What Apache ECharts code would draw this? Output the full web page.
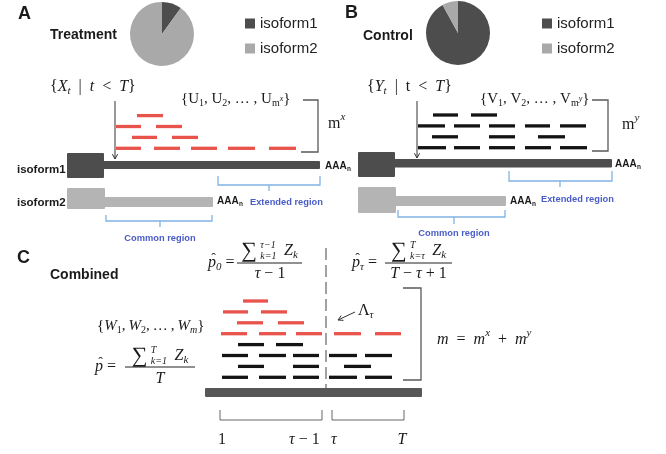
<!DOCTYPE html>
<html><head><meta charset="utf-8">
<script src="https://cdn.jsdelivr.net/npm/echarts@6/dist/echarts.min.js"></script>
<style>html,body{margin:0;padding:0;background:#fff}#c{width:666px;height:454px}</style>
</head><body><div id="c"></div>
<script>
// ---------------- data ----------------
const pieCategories = ['isoform1', 'isoform2'];
const treatmentShare = [10, 90];
const controlShare = [92, 8];

// reads: [start, end, row]  (row 0 = lane nearest the transcript)
const treatmentReads = [
  [116,141,0],[154,180,0],[191,217,0],[228,255,0],[269,296,0],
  [132,157,1],[172,198,1],
  [116,141,2],[156,182,2],
  [137,163,3]
];
const controlReads = [
  [418,446,0],[454,480,0],[489,515,0],[525,551,0],[560,587,0],
  [432,458,1],[489,515,1],[538,565,1],
  [418,445,2],[454,480,2],[489,515,2],[525,550,2],[560,586,2],
  [433,458,3],[471,497,3]
];
const combinedControlReads = [
  [222,248,0],[259,286,0],[293,319,0],[329,357,0],[365,392,0],
  [238,264,1],[293,319,1],[344,371,1],
  [222,248,2],[259,286,2],[293,319,2],[329,357,2],[365,392,2],
  [238,264,3],[276,303,3]
];
const combinedTreatmentReads = [
  [221,247,4],[259,286,4],[296,322,4],[334,361,4],[375,401,4],
  [237,263,5],[278,304,5],
  [223,248,6],[261,287,6],
  [243,268,7]
];
// transcripts: [capStart, capEnd, bodyEnd]
const treatmentIsoform1 = [67, 104, 320];
const treatmentIsoform2 = [67, 105, 213];
const controlIsoform1 = [358, 395, 612];
const controlIsoform2 = [358, 396, 506];
const combinedGenome = [205, 422];
const axisTickLabels = ['1', 'τ − 1', 'τ', 'T'];

// ---------------- styling / layout ----------------
const SERIF = "'Liberation Serif', 'DejaVu Serif', serif";
const SANS = "'Liberation Sans', Arial, sans-serif";
const RED = '#e8534b', BLACK = '#141414', DARK = '#4d4d4d', LIGHT = '#a9a9a9', LIGHT2 = '#b4b4b4';
const BLUE_LINE = '#80b3e4', BLUE_TEXT = '#4a5cc6';
const ROW = 10.9;
const E = '\u2002'; // en space for operator spacing

const mctx = document.createElement('canvas').getContext('2d');
function measure(t, st, s) { mctx.font = (st || 'normal') + ' normal ' + s + 'px ' + SERIF; return mctx.measureText(t).width; }

function txt(x, y, text, o) {
  o = o || {};
  const al = o.align || 'left';
  return { type: 'text', x: x, y: y, silent: true, z: 10,
    style: { text: text, fill: o.fill || '#1a1a1a', fontFamily: o.fontFamily || SERIF,
      fontSize: o.fontSize || 15, fontStyle: o.fontStyle || 'normal', fontWeight: o.fontWeight || 'normal',
      align: al, textAlign: al, verticalAlign: 'middle', textVerticalAlign: 'middle' } };
}
function sans(x, y, text, o) { return txt(x, y, text, Object.assign({ fontFamily: SANS, fontWeight: 'bold' }, o || {})); }

const KIND = {
  r: { s: 16, st: 'normal', dy: 0 }, i: { s: 16, st: 'italic', dy: 0 },
  sb: { s: 11, st: 'normal', dy: 4.5 }, sbi: { s: 11, st: 'italic', dy: 4.5 },
  sp: { s: 11, st: 'italic', dy: -6.5 },
  R: { s: 15, st: 'normal', dy: 0 }, I: { s: 15, st: 'italic', dy: 0 },
  SB: { s: 10, st: 'normal', dy: 4 }, SBI: { s: 10, st: 'italic', dy: 4 },
  tiny: { s: 8, st: 'italic', dy: 0 },
  big: { s: 22, st: 'normal', dy: 0, pad: 2 }
};
function mathText(x, y, parts, align) {
  const els = [];
  const ws = parts.map(function (p) {
    const t = p[0], k = p[1];
    if (k === 'lim') return Math.max(measure(t[0], 'italic', 10), measure(t[1], 'italic', 10)) + 9;
    const K = KIND[k === 'hat' ? 'i' : k];
    return measure(t, K.st, K.s) + (K.pad || 0);
  });
  const total = ws.reduce(function (a, b) { return a + b; }, 0);
  let cx = align === 'center' ? x - total / 2 : (align === 'right' ? x - total : x);
  parts.forEach(function (p, j) {
    const t = p[0], k = p[1];
    if (k === 'lim') {
      els.push(txt(cx + 1.5, y - 5.5, t[0], { fontSize: 10, fontStyle: 'italic' }));
      els.push(txt(cx + 1.5, y + 5, t[1], { fontSize: 10, fontStyle: 'italic' }));
    } else if (k === 'hat') {
      els.push(txt(cx, y, t, { fontSize: 16, fontStyle: 'italic' }));
      els.push(txt(cx + ws[j] / 2 + 1.5, y - 3.5, 'ˆ', { fontSize: 14, align: 'center' }));
    } else {
      const K = KIND[k];
      els.push(txt(cx, y + K.dy, t, { fontSize: K.s, fontStyle: K.st }));
    }
    cx += ws[j];
  });
  return els;
}
function aaa(x, y) { return [sans(x, y, 'AAA', { fontSize: 10 }), sans(x + 22, y + 3, 'n', { fontSize: 6.5 })]; }

// ---------------- series builders ----------------
function readSeries(data, baseY, color) {
  return { type: 'custom', coordinateSystem: 'cartesian2d', silent: true, animation: false, z: 3,
    data: data,
    renderItem: function (params, api) {
      const y = baseY - api.value(2) * ROW;
      const p0 = api.coord([api.value(0), y]);
      const p1 = api.coord([api.value(1), y]);
      return { type: 'line', shape: { x1: p0[0], y1: p0[1], x2: p1[0], y2: p1[1] },
        style: { stroke: color, lineWidth: 3.3, lineCap: 'butt' } };
    } };
}
function rectEl(api, x0, y0, x1, y1, color) {
  const a = api.coord([x0, y0]), b = api.coord([x1, y1]);
  return { type: 'rect', shape: { x: a[0], y: a[1], width: b[0] - a[0], height: b[1] - a[1], r: 1 }, style: { fill: color } };
}
// lane geometry: [capTop, capBottom, barTop, barBottom]
const lanes = [
  { model: treatmentIsoform1, g: [153, 178, 161, 169], color: DARK },
  { model: treatmentIsoform2, g: [188, 209, 197, 207], color: LIGHT2 },
  { model: controlIsoform1, g: [152, 177, 159, 167.5], color: DARK },
  { model: controlIsoform2, g: [187, 213, 196, 206], color: LIGHT2 }
];
const transcriptSeries = { type: 'custom', coordinateSystem: 'cartesian2d', silent: true, animation: false, z: 2,
  data: lanes.map(function (l) { return l.model; }),
  renderItem: function (params, api) {
    const g = lanes[params.dataIndex].g, c = lanes[params.dataIndex].color;
    return { type: 'group', children: [
      rectEl(api, api.value(0), g[0], api.value(1), g[1], c),
      rectEl(api, api.value(1) - 1, g[2], api.value(2), g[3], c)
    ] };
  } };
const genomeSeries = { type: 'custom', coordinateSystem: 'cartesian2d', silent: true, animation: false, z: 2,
  data: [combinedGenome],
  renderItem: function (params, api) { return rectEl(api, api.value(0), 388, api.value(1), 397, '#575757'); } };

const annotationSeries = { type: 'custom', coordinateSystem: 'cartesian2d', silent: true, animation: false, z: 4,
  data: [[0, 0]],
  renderItem: function (params, api) {
    const kids = [];
    function pl(pts, color, w, dash) {
      kids.push({ type: 'polyline', shape: { points: pts.map(function (p) { return api.coord(p); }) },
        style: { stroke: color, lineWidth: w, fill: null, lineDash: dash || null } });
    }
    function arrow(x0, y0, x1, y1, color) {
      pl([[x0, y0], [x1, y1]], color, 1);
      const dx = x1 - x0, dy = y1 - y0, L = Math.hypot(dx, dy), ux = dx / L, uy = dy / L, h = 5.5, s = 0.5;
      const c = Math.cos(s), sn = Math.sin(s);
      const b1 = [x1 - h * (ux * c - uy * sn), y1 - h * (uy * c + ux * sn)];
      const b2 = [x1 - h * (ux * c + uy * sn), y1 - h * (uy * c - ux * sn)];
      pl([b1, [x1, y1], b2], color, 1);
    }
    // right-hand count brackets
    pl([[303, 100], [318, 100], [318, 152], [301, 152]], '#5a5a5a', 1.3);
    pl([[592, 100], [608, 100], [608, 151], [592, 151]], '#5a5a5a', 1.3);
    pl([[403, 288], [421, 288], [421, 380], [403, 380]], '#5a5a5a', 1.3);
    // arrows
    arrow(115, 101, 115, 159, '#333');
    arrow(417, 101, 417, 158, '#333');
    arrow(355, 312, 338, 320, '#333');
    // blue region braces
    pl([[218, 176], [218, 185], [320, 185], [320, 176]], BLUE_LINE, 1.3);
    pl([[269, 185], [269, 191]], BLUE_LINE, 1.3);
    pl([[106, 215], [106, 221], [212, 221], [212, 215]], BLUE_LINE, 1.3);
    pl([[160, 221], [160, 227]], BLUE_LINE, 1.3);
    pl([[509, 171], [509, 181], [612, 181], [612, 171]], BLUE_LINE, 1.3);
    pl([[560, 181], [560, 187]], BLUE_LINE, 1.3);
    pl([[398, 210], [398, 217], [505, 217], [505, 210]], BLUE_LINE, 1.3);
    pl([[454, 217], [454, 224]], BLUE_LINE, 1.3);
    // bottom interval brackets
    pl([[220, 410], [220, 420], [322, 420], [322, 410]], '#666', 1);
    pl([[332, 410], [332, 420], [404, 420], [404, 410]], '#666', 1);
    // change point dashed line
    pl([[326, 248], [326, 388]], '#8a8a8a', 1.6, [12, 5]);
    // fraction bars
    pl([[237, 263], [302, 263]], '#222', 1);
    pl([[385, 263], [452, 263]], '#222', 1);
    pl([[125, 367], [195, 367]], '#222', 1);
    return { type: 'group', children: kids };
  } };

function pieSeries(center, values) {
  const colors = [DARK, LIGHT];
  return { type: 'pie', center: center, radius: 32, startAngle: 90, clockwise: true, silent: true, animation: false,
    label: { show: false }, labelLine: { show: false },
    itemStyle: { borderWidth: 0 },
    data: pieCategories.map(function (n, i) { return { name: n, value: values[i], itemStyle: { color: colors[i] } }; }) };
}
function legendAt(left) {
  return { data: pieCategories, left: left, top: 16, orient: 'vertical', icon: 'rect', itemWidth: 10, itemHeight: 10,
    itemGap: 10, selectedMode: false, padding: 0,
    textStyle: { fontFamily: SANS, fontSize: 15, color: '#222' } };
}

// ---------------- text ----------------
let texts = [];
texts.push(sans(18, 14, 'A', { fontSize: 18 }), sans(345, 13, 'B', { fontSize: 18 }), sans(17, 258, 'C', { fontSize: 18 }));
texts.push(sans(50, 35, 'Treatment', { fontSize: 14 }), sans(363, 36, 'Control', { fontSize: 14 }), sans(50, 275, 'Combined', { fontSize: 14 }));
texts.push(sans(17, 170, 'isoform1', { fontSize: 11.5 }), sans(17, 203, 'isoform2', { fontSize: 11.5 }));
texts = texts.concat(aaa(325, 166), aaa(217, 201), aaa(615, 164), aaa(510, 201));
texts.push(sans(250, 202, 'Extended region', { fontSize: 9.3, fill: BLUE_TEXT }), sans(541, 199, 'Extended region', { fontSize: 9.3, fill: BLUE_TEXT }));
texts.push(sans(160, 238, 'Common region', { fontSize: 9.3, fill: BLUE_TEXT, align: 'center' }), sans(454, 233, 'Common region', { fontSize: 9.3, fill: BLUE_TEXT, align: 'center' }));

texts = texts.concat(
  mathText(50, 87, [['{', 'r'], ['X', 'i'], ['t', 'sbi'], [E + '|' + E, 'r'], ['t', 'i'], [E + '<' + E, 'r'], ['T', 'i'], ['}', 'r']]),
  mathText(181, 99, [['{U', 'R'], ['1', 'SB'], [', U', 'R'], ['2', 'SB'], [', … , U', 'R'], ['m', 'SB'], ['x', 'tiny'], ['}', 'R']]),
  mathText(328, 124, [['m', 'r'], ['x', 'sp']]),
  mathText(367, 87, [['{', 'r'], ['Y', 'i'], ['t', 'sbi'], [E + '|' + E + 't' + E + '<' + E, 'r'], ['T', 'i'], ['}', 'r']]),
  mathText(480, 99, [['{V', 'R'], ['1', 'SB'], [', V', 'R'], ['2', 'SB'], [', … , V', 'R'], ['m', 'SB'], ['y', 'tiny'], ['}', 'R']]),
  mathText(622, 125, [['m', 'r'], ['y', 'sp']]),
  mathText(97, 326, [['{', 'R'], ['W', 'I'], ['1', 'SB'], [',\u2009', 'R'], ['W', 'I'], ['2', 'SB'], [',\u2009…\u2009,\u2009', 'R'], ['W', 'I'], ['m', 'SBI'], ['}', 'R']]),
  mathText(437, 340, [['m', 'i'], [E + '=' + E, 'r'], ['m', 'i'], ['x', 'sp'], [E + '+' + E, 'r'], ['m', 'i'], ['y', 'sp']]),
  mathText(358, 311, [['Λ', 'r'], ['τ', 'sbi']]),
  // p0 hat
  mathText(208, 263, [['p', 'hat'], ['0', 'sbi'], [' =', 'r']]),
  mathText(269.5, 251, [['∑', 'big'], [['τ−1', 'k=1'], 'lim'], ['Z', 'i'], ['k', 'sbi']], 'center'),
  mathText(270, 274, [['τ', 'i'], [' − 1', 'r']], 'center'),
  // p tau hat
  mathText(352, 263, [['p', 'hat'], ['τ', 'sbi'], [' =', 'r']]),
  mathText(418.5, 251, [['∑', 'big'], [['T', 'k=τ'], 'lim'], ['Z', 'i'], ['k', 'sbi']], 'center'),
  mathText(418.5, 274, [['T', 'i'], [' − ', 'r'], ['τ', 'i'], [' + 1', 'r']], 'center'),
  // p hat
  mathText(95, 367, [['p', 'hat'], [' =', 'r']]),
  mathText(160, 356, [['∑', 'big'], [['T', 'k=1'], 'lim'], ['Z', 'i'], ['k', 'sbi']], 'center'),
  mathText(160, 379, [['T', 'i']], 'center'),
  // interval tick labels
  mathText(222, 440, [[axisTickLabels[0], 'r']], 'center'),
  mathText(289, 440, [['τ', 'i'], [' − 1', 'r']]),
  mathText(331, 440, [['τ', 'i']]),
  mathText(402, 440, [['T', 'i']], 'center')
);

const chart = echarts.init(document.getElementById('c'), null, { renderer: 'canvas' });
chart.setOption({
  animation: false,
  backgroundColor: '#ffffff',
  grid: { left: 0, right: 0, top: 0, bottom: 0, containLabel: false },
  xAxis: { type: 'value', min: 0, max: 666, show: false },
  yAxis: { type: 'value', min: 0, max: 454, inverse: true, show: false },
  legend: [legendAt(245), legendAt(542)],
  series: [
    pieSeries([162, 34], treatmentShare),
    pieSeries([458, 33], controlShare),
    transcriptSeries, genomeSeries,
    readSeries(treatmentReads, 148.3, RED),
    readSeries(controlReads, 147.7, BLACK),
    readSeries(combinedControlReads, 377.3, BLACK),
    readSeries(combinedTreatmentReads, 377.3, RED),
    annotationSeries
  ],
  graphic: { elements: texts }
});
</script></body></html>
